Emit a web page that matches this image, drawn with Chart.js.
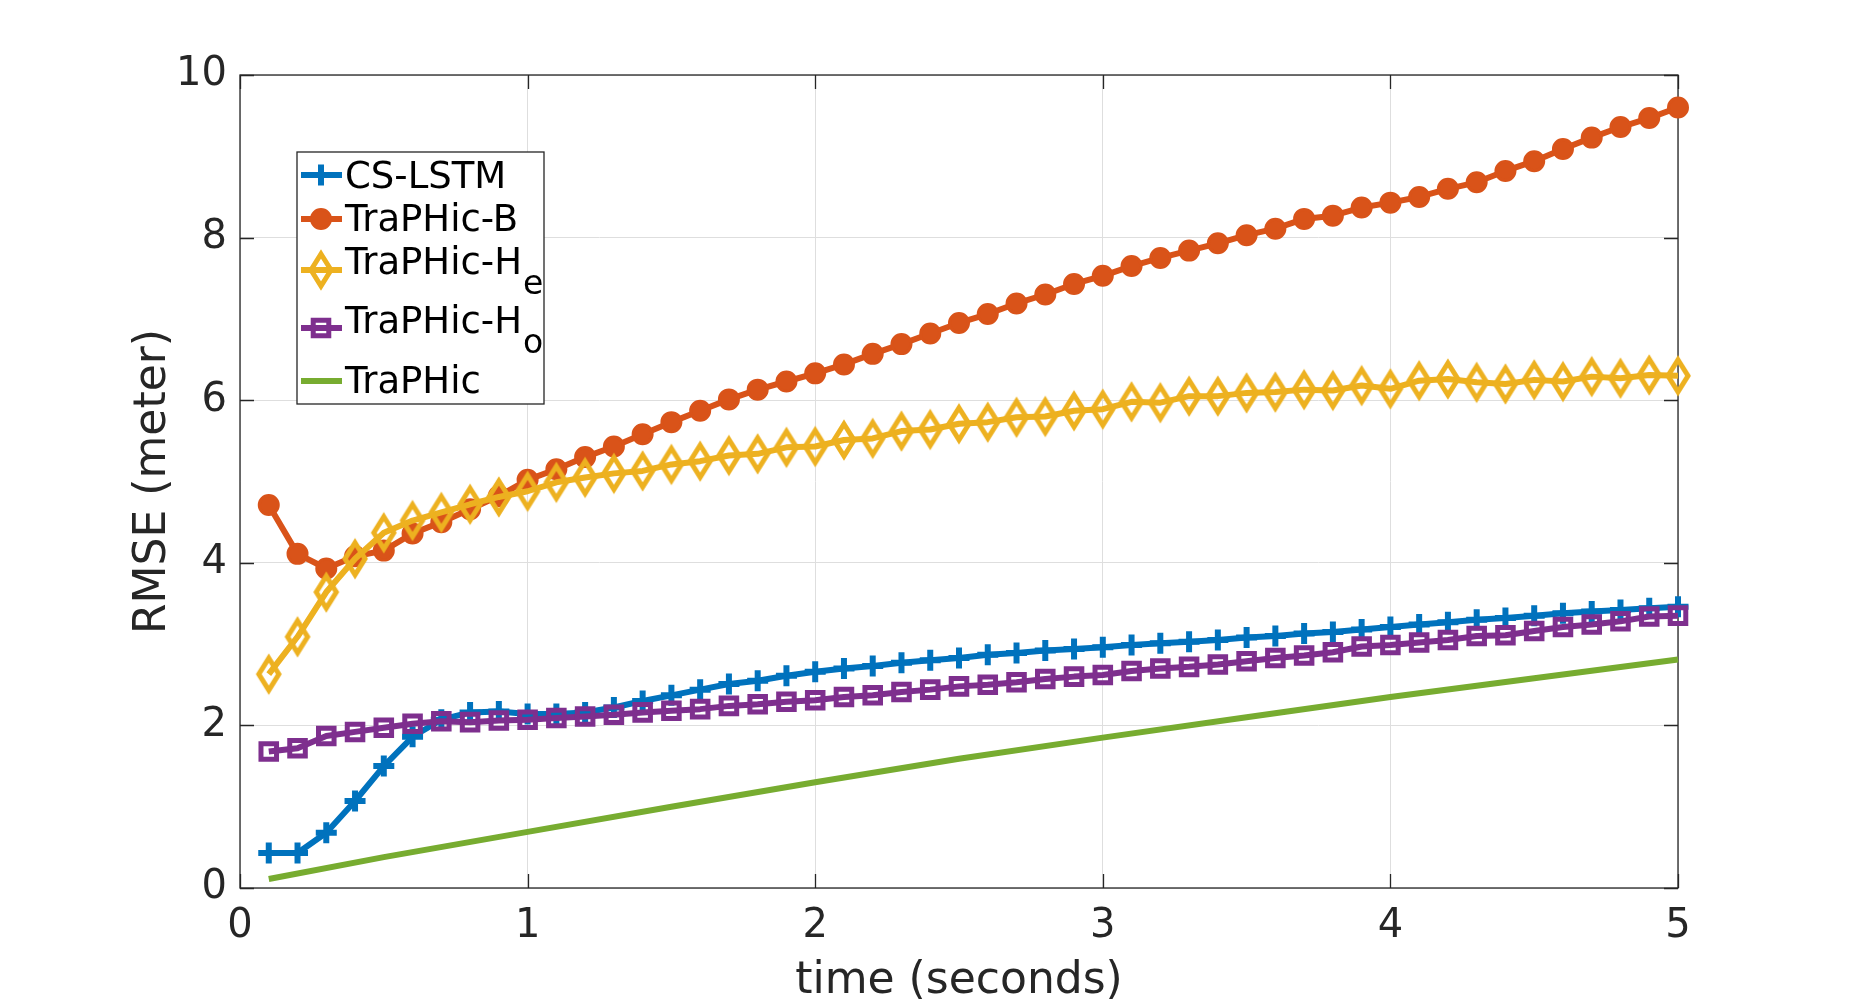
<!DOCTYPE html>
<html>
<head>
<meta charset="utf-8">
<title>RMSE over time</title>
<script src="https://cdn.jsdelivr.net/npm/chart.js@4.4.0/dist/chart.umd.min.js"></script>
<style>
  body { margin: 0; background: #fff; }
  #wrap { width: 1855px; height: 1001px; position: relative; }
</style>
</head>
<body>
<div id="wrap"><canvas id="rmseChart"></canvas></div>
<script>
// prediction horizon (seconds)
const timeSteps = [0.1, 0.2, 0.3, 0.4, 0.5, 0.6, 0.7, 0.8, 0.9, 1.0,
                   1.1, 1.2, 1.3, 1.4, 1.5, 1.6, 1.7, 1.8, 1.9, 2.0,
                   2.1, 2.2, 2.3, 2.4, 2.5, 2.6, 2.7, 2.8, 2.9, 3.0,
                   3.1, 3.2, 3.3, 3.4, 3.5, 3.6, 3.7, 3.8, 3.9, 4.0,
                   4.1, 4.2, 4.3, 4.4, 4.5, 4.6, 4.7, 4.8, 4.9, 5.0];

const csLstm = [0.43, 0.43, 0.68, 1.07, 1.50, 1.86, 2.07, 2.16, 2.17, 2.14,
                2.14, 2.16, 2.22, 2.30, 2.37, 2.44, 2.51, 2.55, 2.61, 2.66,
                2.70, 2.73, 2.77, 2.80, 2.83, 2.87, 2.89, 2.92, 2.94, 2.96,
                2.99, 3.01, 3.03, 3.05, 3.08, 3.10, 3.13, 3.15, 3.18, 3.21,
                3.24, 3.27, 3.30, 3.32, 3.35, 3.38, 3.40, 3.42, 3.44, 3.46];

const traphicB = [4.71, 4.11, 3.93, 4.08, 4.15, 4.36, 4.50, 4.66, 4.82, 5.02,
                  5.15, 5.30, 5.43, 5.58, 5.73, 5.87, 6.01, 6.13, 6.23, 6.33,
                  6.44, 6.57, 6.69, 6.82, 6.95, 7.06, 7.19, 7.30, 7.43, 7.53,
                  7.65, 7.75, 7.84, 7.93, 8.03, 8.11, 8.23, 8.27, 8.37, 8.43,
                  8.50, 8.60, 8.68, 8.82, 8.94, 9.09, 9.23, 9.36, 9.47, 9.60];

const traphicHe = [2.63, 3.09, 3.64, 4.05, 4.37, 4.52, 4.62, 4.72, 4.81, 4.88,
                   4.99, 5.05, 5.10, 5.13, 5.21, 5.25, 5.32, 5.34, 5.42, 5.43,
                   5.51, 5.53, 5.62, 5.64, 5.71, 5.73, 5.79, 5.80, 5.87, 5.89,
                   5.98, 5.97, 6.05, 6.05, 6.09, 6.10, 6.13, 6.12, 6.18, 6.14,
                   6.24, 6.26, 6.22, 6.20, 6.25, 6.23, 6.29, 6.27, 6.31, 6.30];

const traphicHo = [1.68, 1.72, 1.87, 1.92, 1.97, 2.02, 2.05, 2.04, 2.06, 2.07,
                   2.09, 2.11, 2.13, 2.16, 2.18, 2.20, 2.24, 2.26, 2.29, 2.31,
                   2.35, 2.37, 2.41, 2.44, 2.48, 2.50, 2.53, 2.57, 2.60, 2.62,
                   2.67, 2.70, 2.72, 2.75, 2.79, 2.83, 2.86, 2.90, 2.97, 2.99,
                   3.02, 3.05, 3.10, 3.11, 3.16, 3.21, 3.24, 3.28, 3.34, 3.35];

// TraPHic is drawn as a plain line, read at these times
const traphicTimes = [0.1, 0.5, 1.0, 1.5, 2.0, 2.5, 3.0, 3.5, 4.0, 4.5, 5.0];
const traphic = [0.11, 0.38, 0.69, 1.00, 1.30, 1.59, 1.85, 2.10, 2.35, 2.58, 2.81];

const xTicks = [0, 1, 2, 3, 4, 5];
const yTicks = [0, 2, 4, 6, 8, 10];

const seriesNames = ['CS-LSTM', 'TraPHic-B', 'TraPHic-H', 'TraPHic-H', 'TraPHic'];
const seriesSubs = ['', '', 'e', 'o', ''];

const BLUE = '#0072BD';
const ORANGE = '#D95319';
const YELLOW = '#EDB120';
const PURPLE = '#7E2F8E';
const GREEN = '#77AC30';
const AXIS = '#262626';
const FONT = "'DejaVu Sans', sans-serif";

const toPoints = (xs, ys) => xs.map((x, i) => ({ x: x, y: ys[i] }));

// MATLAB-like diamond is taller than it is wide
function makeDiamond(color) {
    const c = document.createElement('canvas');
    c.width = 34;
    c.height = 48;
    const g = c.getContext('2d');
    g.strokeStyle = color;
    g.lineWidth = 5;
    g.beginPath();
    g.moveTo(17, 8);
    g.lineTo(27, 24);
    g.lineTo(17, 40);
    g.lineTo(7, 24);
    g.closePath();
    g.stroke();
    return c;
}
const diamond = makeDiamond(YELLOW);

// frame + inward tick marks, drawn under the data
const framePlugin = {
    id: 'frame',
    beforeDatasetsDraw(chart) {
        const { ctx, chartArea: a, scales } = chart;
        const tl = 14;
        ctx.save();
        ctx.strokeStyle = AXIS;
        ctx.lineWidth = 1.3;
        ctx.beginPath();
        xTicks.forEach(v => {
            const px = Math.round(scales.x.getPixelForValue(v)) + 0.5;
            ctx.moveTo(px, a.bottom); ctx.lineTo(px, a.bottom - tl);
            ctx.moveTo(px, a.top); ctx.lineTo(px, a.top + tl);
        });
        yTicks.forEach(v => {
            const py = Math.round(scales.y.getPixelForValue(v)) + 0.5;
            ctx.moveTo(a.left, py); ctx.lineTo(a.left + tl, py);
            ctx.moveTo(a.right, py); ctx.lineTo(a.right - tl, py);
        });
        ctx.stroke();
        ctx.strokeRect(a.left, a.top, a.right - a.left, a.bottom - a.top);
        ctx.restore();
    }
};

// legend with subscripts, drawn on top
const legendPlugin = {
    id: 'subLegend',
    afterDraw(chart) {
        const ctx = chart.ctx;
        const box = { x: 297, y: 152, w: 247, h: 252 };
        const rows = [
            { lineY: 175, base: 188 },
            { lineY: 219, base: 231 },
            { lineY: 270, base: 274 },
            { lineY: 328, base: 333 },
            { lineY: 381, base: 393 }
        ];
        ctx.save();
        ctx.fillStyle = '#fff';
        ctx.fillRect(box.x, box.y, box.w, box.h);
        ctx.strokeStyle = AXIS;
        ctx.lineWidth = 1.3;
        ctx.strokeRect(box.x, box.y, box.w, box.h);

        chart.data.datasets.forEach((ds, i) => {
            const r = rows[i];
            ctx.strokeStyle = ds.borderColor;
            ctx.lineWidth = ds.borderWidth;
            ctx.beginPath();
            ctx.moveTo(301, r.lineY);
            ctx.lineTo(342, r.lineY);
            ctx.stroke();
            if (ds.pointRadius > 0) {
                ctx.fillStyle = ds.pointBackgroundColor;
                ctx.strokeStyle = ds.borderColor;
                ctx.lineWidth = ds.pointBorderWidth;
                Chart.helpers.drawPoint(ctx, {
                    pointStyle: ds.pointStyle,
                    rotation: 0,
                    radius: ds.pointRadius,
                    borderWidth: ds.pointBorderWidth
                }, 321, r.lineY);
            }
            ctx.fillStyle = '#000';
            ctx.textBaseline = 'alphabetic';
            ctx.font = '37px ' + FONT;
            ctx.fillText(seriesNames[i], 345, r.base);
            if (seriesSubs[i]) {
                const w = ctx.measureText(seriesNames[i]).width;
                ctx.font = '33px ' + FONT;
                ctx.fillText(seriesSubs[i], 345 + w + 1, r.base + 20);
            }
        });
        ctx.restore();
    }
};

Chart.defaults.font.family = FONT;
Chart.defaults.color = AXIS;

new Chart(document.getElementById('rmseChart'), {
    type: 'line',
    data: {
        datasets: [
            {
                label: 'CS-LSTM',
                data: toPoints(timeSteps, csLstm),
                borderColor: BLUE,
                backgroundColor: BLUE,
                pointBackgroundColor: BLUE,
                borderWidth: 6,
                pointStyle: 'cross',
                pointRadius: 10.5,
                pointBorderWidth: 6,
                order: 5
            },
            {
                label: 'TraPHic-B',
                data: toPoints(timeSteps, traphicB),
                borderColor: ORANGE,
                backgroundColor: ORANGE,
                pointBackgroundColor: ORANGE,
                borderWidth: 6,
                pointStyle: 'circle',
                pointRadius: 9.5,
                pointBorderWidth: 3,
                order: 4
            },
            {
                label: 'TraPHic-He',
                data: toPoints(timeSteps, traphicHe),
                borderColor: YELLOW,
                backgroundColor: YELLOW,
                pointBackgroundColor: 'rgba(0,0,0,0)',
                borderWidth: 6,
                pointStyle: diamond,
                pointRadius: 16,
                pointBorderWidth: 5,
                order: 3
            },
            {
                label: 'TraPHic-Ho',
                data: toPoints(timeSteps, traphicHo),
                borderColor: PURPLE,
                backgroundColor: PURPLE,
                pointBackgroundColor: 'rgba(0,0,0,0)',
                borderWidth: 6,
                pointStyle: 'rect',
                pointRadius: 11,
                pointBorderWidth: 5,
                order: 2
            },
            {
                label: 'TraPHic',
                data: toPoints(traphicTimes, traphic),
                borderColor: GREEN,
                backgroundColor: GREEN,
                borderWidth: 6,
                pointRadius: 0,
                order: 1
            }
        ]
    },
    options: {
        responsive: true,
        maintainAspectRatio: false,
        animation: false,
        clip: false,
        layout: { padding: { top: 75, right: 177, left: 0, bottom: 0 } },
        plugins: {
            legend: { display: false },
            tooltip: { enabled: false }
        },
        elements: { line: { tension: 0, borderJoinStyle: 'round' } },
        scales: {
            x: {
                type: 'linear',
                min: 0,
                max: 5,
                afterBuildTicks: s => { s.ticks = xTicks.map(v => ({ value: v })); },
                afterFit: s => { s.height = 113; },
                grid: { color: '#dedede', lineWidth: 1, drawTicks: false },
                border: { display: false },
                ticks: { font: { size: 40 }, color: AXIS, padding: 15, maxRotation: 0 },
                title: {
                    display: true,
                    text: 'time (seconds)',
                    font: { size: 44, lineHeight: 0.9 },
                    color: AXIS,
                    padding: { top: 0, bottom: 0 }
                }
            },
            y: {
                min: 0,
                max: 10,
                afterBuildTicks: s => { s.ticks = yTicks.map(v => ({ value: v })); },
                afterFit: s => { s.width = 240; },
                grid: { color: '#dedede', lineWidth: 1, drawTicks: false },
                border: { display: false },
                ticks: { font: { size: 40 }, color: AXIS, padding: 13 },
                title: {
                    display: true,
                    text: 'RMSE (meter)',
                    font: { size: 44 },
                    color: AXIS,
                    padding: { top: 127, bottom: 0 }
                }
            }
        }
    },
    plugins: [framePlugin, legendPlugin]
});
</script>
</body>
</html>
